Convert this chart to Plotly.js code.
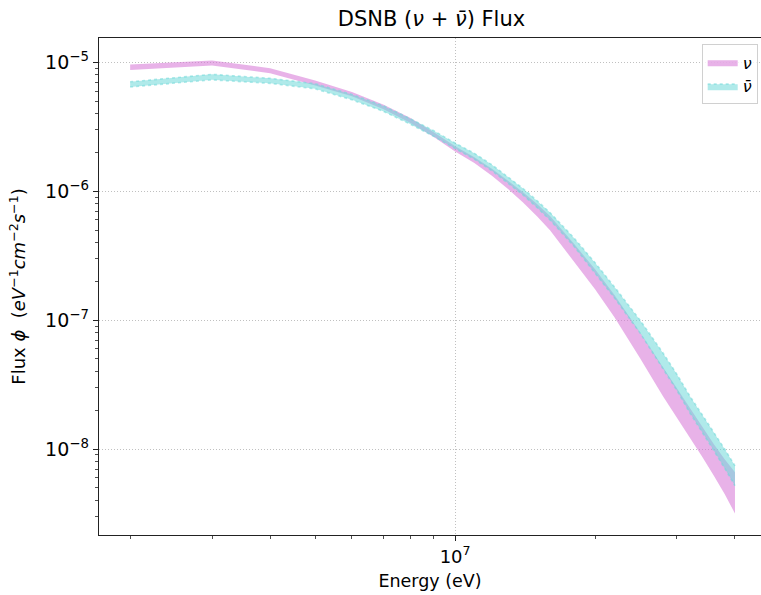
<!DOCTYPE html>
<html>
<head>
<meta charset="utf-8">
<script src="https://cdn.plot.ly/plotly-3.0.1.min.js"></script>
<style>html,body{margin:0;padding:0;background:#fff;}#chart{width:761px;height:595px;}</style>
</head>
<body>
<div id="chart"></div>
<script>
// Energy grid (eV)
const energy = [2e6,3e6,4e6,5e6,6e6,7e6,8e6,9e6,1e7,1.1e7,1.2e7,1.3e7,1.4e7,1.5e7,1.6e7,1.8e7,2e7,2.2e7,2.5e7,2.8e7,3e7,3.2e7,3.4e7,3.6e7,3.8e7,4e7];

// nu band (eV^-1 cm^-2 s^-1)
const nuUpper = [9.64e-6,1.038e-5,9.04e-6,7.24e-6,5.89e-6,4.73e-6,3.72e-6,2.88e-6,2.24e-6,1.837e-6,1.500e-6,1.213e-6,9.84e-7,7.96e-7,6.43e-7,3.94e-7,2.48e-7,1.574e-7,8.04e-8,4.32e-8,2.95e-8,2.07e-8,1.507e-8,1.096e-8,8.32e-9,6.61e-9];
const nuLower = [8.75e-6,9.48e-6,8.26e-6,6.64e-6,5.46e-6,4.35e-6,3.40e-6,2.64e-6,2.04e-6,1.656e-6,1.321e-6,1.045e-6,8.18e-7,6.40e-7,4.99e-7,2.88e-7,1.738e-7,1.059e-7,5.07e-8,2.57e-8,1.758e-8,1.230e-8,8.71e-9,6.24e-9,4.47e-9,3.16e-9];

// anti-nu band
const nubarUpper = [7.08e-6,8.09e-6,7.53e-6,6.84e-6,5.65e-6,4.62e-6,3.67e-6,2.95e-6,2.37e-6,1.972e-6,1.607e-6,1.300e-6,1.052e-6,8.47e-7,6.84e-7,4.37e-7,2.79e-7,1.820e-7,1.0e-7,5.57e-8,3.80e-8,2.57e-8,1.862e-8,1.349e-8,1.0e-8,7.41e-9];
const nubarLower = [6.46e-6,7.33e-6,6.89e-6,6.24e-6,5.13e-6,4.19e-6,3.33e-6,2.67e-6,2.15e-6,1.778e-6,1.445e-6,1.164e-6,9.38e-7,7.50e-7,6.00e-7,3.76e-7,2.34e-7,1.496e-7,7.94e-8,4.23e-8,2.85e-8,1.905e-8,1.365e-8,9.77e-9,7.11e-9,5.19e-9];

// Tick labels
const yTickVals = [1e-5,1e-6,1e-7,1e-8];
const yTickText = ['10<sup>−5</sup>','10<sup>−6</sup>','10<sup>−7</sup>','10<sup>−8</sup>'];
const xTickVals = [1e7];
const xTickText = ['10<sup>7</sup>'];
const xMinor = [2e6,3e6,4e6,5e6,6e6,7e6,8e6,9e6,2e7,3e7,4e7];
const yMinor = [];
[1e-9,1e-8,1e-7,1e-6,1e-5].forEach(d => { for (let k = 2; k <= 9; k++) yMinor.push(k*d); });

const nuFill = 'rgba(213,115,213,0.55)';
const nubarFill = 'rgba(111,217,217,0.55)';

const traces = [
  {x: energy, y: nuUpper, mode: 'lines', line: {width: 0, color: nuFill}, showlegend: false, hoverinfo: 'skip'},
  {x: energy, y: nuLower, mode: 'lines', fill: 'tonexty', fillcolor: nuFill, line: {width: 0, color: nuFill}, name: '<i>ν</i>'},
  {x: energy, y: nubarUpper, mode: 'lines', line: {width: 1.6, color: nubarFill, dash: 'dot'}, showlegend: false, hoverinfo: 'skip'},
  {x: energy, y: nubarLower, mode: 'lines', fill: 'tonexty', fillcolor: nubarFill, line: {width: 1.6, color: nubarFill, dash: 'dot'}, name: '<i>ν̄</i>'}
];

const font = {family: 'DejaVu Sans, sans-serif', color: '#000'};

const layout = {
  width: 761, height: 595,
  margin: {l: 99, r: 0, t: 38, b: 60, pad: 0},
  paper_bgcolor: '#fff', plot_bgcolor: '#fff',
  font: Object.assign({size: 16}, font),
  title: {text: 'DSNB (<i>ν</i> + <i>ν̄</i>) Flux', font: Object.assign({}, font, {size: 21}), x: 0.567, xanchor: 'center', y: 0.968, yanchor: 'middle'},
  xaxis: {
    type: 'log', range: [6.234, 7.658],
    tickmode: 'array', tickvals: xTickVals, ticktext: xTickText,
    ticks: 'outside', ticklen: 5, tickwidth: 1, tickcolor: '#222',
    tickfont: Object.assign({}, font, {size: 18}),
    showline: true, linecolor: '#222', linewidth: 1.3, mirror: true,
    showgrid: true, gridcolor: '#b0b0b0', gridwidth: 0.8, griddash: '1px,2px',
    zeroline: false,
    minor: {tickmode: 'array', tickvals: xMinor, ticks: 'outside', ticklen: 3, tickwidth: 0.8, tickcolor: '#222', showgrid: false},
    title: {text: 'Energy (eV)', font: Object.assign({}, font, {size: 17.5}), standoff: 8}
  },
  yaxis: {
    type: 'log', range: [-8.667, -4.81],
    tickmode: 'array', tickvals: yTickVals, ticktext: yTickText,
    ticks: 'outside', ticklen: 5, tickwidth: 1, tickcolor: '#222',
    tickfont: Object.assign({}, font, {size: 19}),
    showline: true, linecolor: '#222', linewidth: 1.3, mirror: false,
    showgrid: true, gridcolor: '#b0b0b0', gridwidth: 0.8, griddash: '1px,2px',
    zeroline: false,
    minor: {tickmode: 'array', tickvals: yMinor, ticks: 'outside', ticklen: 3, tickwidth: 0.8, tickcolor: '#222', showgrid: false},
    title: {text: 'Flux <i>ϕ</i>  (<i>eV</i><sup>−1</sup><i>cm</i><sup>−2</sup><i>s</i><sup>−1</sup>)', font: Object.assign({}, font, {size: 18}), standoff: 14}
  },
  legend: {
    x: 0.995, xanchor: 'right', y: 0.987, yanchor: 'top',
    traceorder: 'normal',
    bgcolor: 'rgba(255,255,255,0.8)', bordercolor: '#d0d0d0', borderwidth: 1,
    font: Object.assign({}, font, {size: 16}),
    itemwidth: 30, tracegroupgap: 4
  },
  showlegend: true
};

Plotly.newPlot('chart', traces, layout, {displayModeBar: false, staticPlot: true});
</script>
</body>
</html>
